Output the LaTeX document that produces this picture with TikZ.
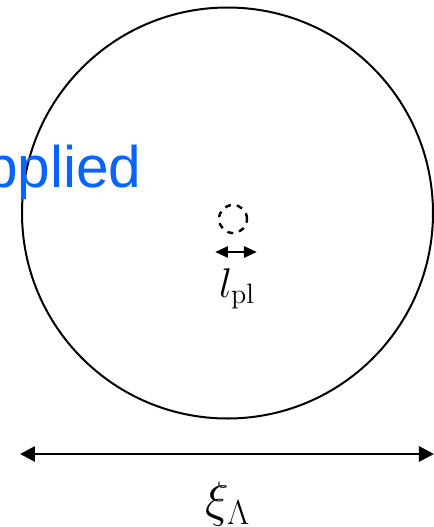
\documentclass[tikz,border=0pt]{standalone}
\usepackage{fontspec}
\newfontfamily\labelsans{Liberation Sans}
\usepackage{tikz}
\usetikzlibrary{arrows.meta,positioning}
\definecolor{appliedblue}{RGB}{8,100,250}

\begin{document}
\begin{tikzpicture}[
    x=0.5pt, y=-0.5pt,
    region/.style={draw, circle, line width=1pt, inner sep=0pt},
    dimline/.style={{Triangle[length=7.5pt,width=7.5pt]}-{Triangle[length=7.5pt,width=7.5pt]}, line width=1.4pt},
    smalldim/.style={{Triangle[length=6.5pt,width=5.5pt]}-{Triangle[length=6.5pt,width=5.5pt]}, line width=1.4pt},
    mathlabel/.style={inner sep=0pt, font=\fontsize{20}{24}\selectfont},
]
    \useasboundingbox (0,0) rectangle (434,527);

    % Large circle and small dashed circle
    \node[region, minimum size=205.5pt] (bigcirc) at (227.5,213) {};
    \node[region, dashed, line width=1.2pt, minimum size=14pt] (smallcirc) at (233,219) {};

    % Blue label, cut by the left edge
    \node[anchor=base east, inner sep=0pt, text=appliedblue,
          font=\labelsans\fontsize{29.3}{32}\selectfont] (applied) at (142,187) {Applied};

    % Small arrow with its label
    \coordinate (plL) at (215,252);
    \coordinate (plR) at (257,252);
    \draw[smalldim] (plL) -- (plR);
    \node[mathlabel, anchor=north] (lpl) at (237,268) {$l_{\mathrm{pl}}$};

    % Wide arrow with its label
    \coordinate (xiL) at (20,454);
    \coordinate (xiR) at (434,454);
    \draw[dimline] (xiL) -- (xiR);
    \node[mathlabel, anchor=north, font=\fontsize{23}{26}\selectfont] (xi) at (228,482) {$\xi_{\Lambda}$};
\end{tikzpicture}
\end{document}
